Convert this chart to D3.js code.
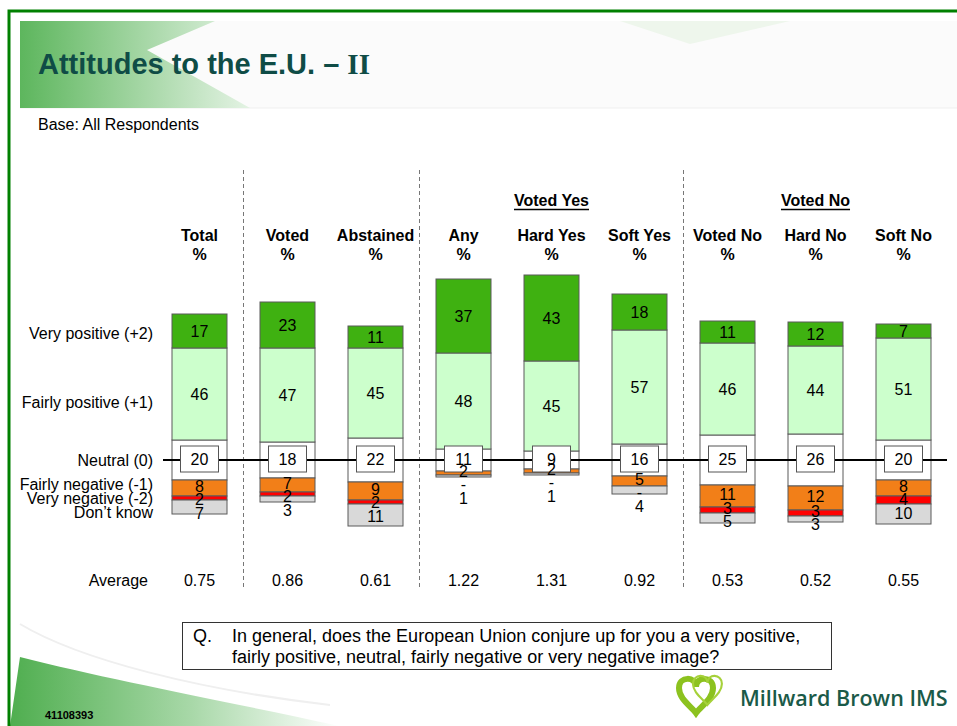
<!DOCTYPE html>
<meta charset="utf-8">
<style>
    body { margin: 0; background: #fff; }
    svg text { font-family: "Liberation Sans", Arial, sans-serif; }
    .rowLabel { font-size: 16px; fill: #000; text-anchor: end; }
    .colHead { font-size: 16px; font-weight: bold; text-anchor: middle; }
    .segLabel { font-size: 16px; text-anchor: middle; }
    .avg { font-size: 16px; text-anchor: middle; }
</style>
<svg width="957" height="726"></svg>
<script src="https://d3js.org/d3.v7.min.js"></script>
<script>
    // categories and values
    var columns = ["Total", "Voted", "Abstained", "Any", "Hard Yes", "Soft Yes", "Voted No", "Hard No", "Soft No"];
    var veryPositive   = [17, 23, 11, 37, 43, 18, 11, 12, 7];
    var fairlyPositive = [46, 47, 45, 48, 45, 57, 46, 44, 51];
    var neutral        = [20, 18, 22, 11, 9, 16, 25, 26, 20];
    var fairlyNegative = [8, 7, 9, 2, 2, 5, 11, 12, 8];
    var veryNegative   = [2, 2, 2, 0, 0, 0, 3, 3, 4];
    var dontKnow       = [7, 3, 11, 1, 1, 4, 5, 3, 10];
    var averages = ["0.75", "0.86", "0.61", "1.22", "1.31", "0.92", "0.53", "0.52", "0.55"];
    var groupHeads = [{label: "Voted Yes", over: "Hard Yes"}, {label: "Voted No", over: "Hard No"}];
    var dividersAfter = ["Total", "Abstained", "Soft Yes"];
    var rowLabels = ["Very positive (+2)", "Fairly positive (+1)", "Neutral (0)",
                     "Fairly negative (-1)", "Very negative (-2)", "Don\u2019t know"];

    var colors = {vp: "#3fb111", fp: "#ccffcc", n: "#ffffff", fn: "#f27f18", vn: "#ff0000", dk: "#d9d9d9"};

    var svg = d3.select("svg"),
        width = +svg.attr("width"),
        height = +svg.attr("height");

    var defs = svg.append("defs");
    var g1 = defs.append("linearGradient").attr("id", "titleGreen");
    g1.append("stop").attr("offset", "0%").attr("stop-color", "#5db65d");
    g1.append("stop").attr("offset", "100%").attr("stop-color", "#e4f3e4");
    var g2 = defs.append("linearGradient").attr("id", "footGreen");
    g2.append("stop").attr("offset", "0%").attr("stop-color", "#4fae4f");
    g2.append("stop").attr("offset", "55%").attr("stop-color", "#a8d8a8");
    g2.append("stop").attr("offset", "100%").attr("stop-color", "#ffffff");

    // slide decoration
    svg.append("rect").attr("x", 20).attr("y", 21).attr("width", width - 20).attr("height", 87)
        .attr("fill", "#fbfbfb");
    svg.append("line").attr("x1", 20).attr("x2", width).attr("y1", 108).attr("y2", 108)
        .attr("stroke", "#efefef");
    svg.append("path").attr("d", "M20,21 L215,21 L147,50 L250,108 L20,108 Z")
        .attr("fill", "url(#titleGreen)");
    svg.append("path").attr("d", "M620,21 L790,21 L690,44 Z").attr("fill", "#eef6ec");

    svg.append("path").attr("d", "M20,624 C80,660 200,690 330,705").attr("fill", "none")
        .attr("stroke", "#efefef").attr("stroke-width", 2);
    svg.append("path").attr("d", "M20,657 C110,680 220,700 340,726 L10,726 Z")
        .attr("fill", "url(#footGreen)");

    svg.append("path").attr("d", "M9,726 L9,11 L957,11").attr("fill", "none")
        .attr("stroke", "#008000").attr("stroke-width", 3);

    // title
    var title = svg.append("text").attr("x", 38).attr("y", 74)
        .style("font-size", "29px").style("font-weight", "bold").attr("fill", "#0f4c46");
    title.append("tspan").text("Attitudes to the E.U. \u2013 ");
    title.append("tspan").style("font-family", "'Liberation Serif', serif").text("II");

    svg.append("text").attr("x", 38).attr("y", 130).style("font-size", "16px").text("Base: All Respondents");

    // scales
    var x = d3.scaleBand().domain(columns).range([155.5, 947.5])
        .paddingInner(0.375).paddingOuter(0.1875);
    var yPos = d3.scaleLinear().domain([-100, 100]).range([660, 260]);   // 0 = neutral line
    var bw = x.bandwidth();
    function cx(c) { return x(c) + bw / 2; }

    // dashed dividers
    dividersAfter.forEach(function (c) {
        var i = columns.indexOf(c);
        var xm = (cx(columns[i]) + cx(columns[i + 1])) / 2;
        svg.append("line").attr("x1", xm).attr("x2", xm).attr("y1", 170).attr("y2", 590)
            .attr("stroke", "#777").attr("stroke-width", 1).attr("stroke-dasharray", "4,3");
    });

    // headers
    groupHeads.forEach(function (h) {
        var t = svg.append("text").attr("class", "colHead").attr("x", cx(h.over)).attr("y", 206).text(h.label);
        var w = t.node().getComputedTextLength();
        svg.append("line").attr("x1", cx(h.over) - w / 2).attr("x2", cx(h.over) + w / 2)
            .attr("y1", 209.5).attr("y2", 209.5).attr("stroke", "#000").attr("stroke-width", 1.5);
    });
    columns.forEach(function (c) {
        svg.append("text").attr("class", "colHead").attr("x", cx(c)).attr("y", 241).text(c);
        svg.append("text").attr("class", "colHead").attr("x", cx(c)).attr("y", 260).text("%");
    });

    // build segments
    var table = columns.map(function (c, i) {
        var n = neutral[i];
        var segs = [];
        var top = n / 2;
        segs.push({key: "n", from: -n / 2, to: n / 2, v: n});
        segs.push({key: "fp", from: top, to: top + fairlyPositive[i], v: fairlyPositive[i]});
        top += fairlyPositive[i];
        segs.push({key: "vp", from: top, to: top + veryPositive[i], v: veryPositive[i]});
        var bot = -n / 2;
        segs.push({key: "fn", from: bot - fairlyNegative[i], to: bot, v: fairlyNegative[i]});
        bot -= fairlyNegative[i];
        segs.push({key: "vn", from: bot - veryNegative[i], to: bot, v: veryNegative[i]});
        bot -= veryNegative[i];
        segs.push({key: "dk", from: bot - dontKnow[i], to: bot, v: dontKnow[i]});
        return {col: c, avg: averages[i], segs: segs};
    });

    var bars = svg.append("g").selectAll("g").data(table).enter().append("g");
    bars.selectAll("rect")
        .data(function (d) { return d.segs.filter(function (s) { return s.v > 0; })
            .map(function (s) { return Object.assign({col: d.col}, s); }); })
        .enter().append("rect")
        .attr("x", function (s) { return x(s.col); })
        .attr("width", bw)
        .attr("y", function (s) { return yPos(s.to); })
        .attr("height", function (s) { return yPos(s.from) - yPos(s.to); })
        .attr("fill", function (s) { return colors[s.key]; })
        .attr("stroke", "#5a5a5a").attr("stroke-width", 1);

    // neutral line
    svg.append("line").attr("x1", 163).attr("x2", 947).attr("y1", yPos(0)).attr("y2", yPos(0))
        .attr("stroke", "#000").attr("stroke-width", 2);

    // labels
    table.forEach(function (d) {
        var c = cx(d.col);
        d.segs.forEach(function (s) {
            if (s.key === "vp" || s.key === "fp") {
                svg.append("text").attr("class", "segLabel").attr("x", c)
                    .attr("y", (yPos(s.from) + yPos(s.to)) / 2).attr("dy", "0.35em").text(s.v);
            }
        });
        svg.append("rect").attr("x", c - 19).attr("y", yPos(0) - 14).attr("width", 38).attr("height", 26)
            .attr("fill", "#fff").attr("stroke", "#555").attr("stroke-width", 1);
        svg.append("text").attr("class", "segLabel").attr("x", c).attr("y", yPos(0) - 1)
            .attr("dy", "0.35em").text(d.segs[0].v);
        var prev = -Infinity;
        d.segs.filter(function (s) { return ["fn", "vn", "dk"].indexOf(s.key) >= 0; })
            .forEach(function (s) {
                var yy = Math.max((yPos(s.from) + yPos(s.to)) / 2 - 2, prev + 13.5);
                prev = yy;
                svg.append("text").attr("class", "segLabel").attr("x", c).attr("y", yy)
                    .attr("dy", "0.35em").text(s.v === 0 ? "-" : s.v);
            });
        svg.append("text").attr("class", "avg").attr("x", c).attr("y", 586).text(d.avg);
    });

    // row labels
    var rowY = [yPos(63.5), yPos(29), yPos(0), yPos(-12), yPos(-19), yPos(-26)];
    rowLabels.forEach(function (r, i) {
        svg.append("text").attr("class", "rowLabel").attr("x", 153).attr("y", rowY[i])
            .attr("dy", "0.35em").text(r);
    });
    svg.append("text").attr("class", "rowLabel").attr("x", 148).attr("y", 586).text("Average");

    // question box
    svg.append("rect").attr("x", 182.5).attr("y", 622.5).attr("width", 649).attr("height", 47)
        .attr("fill", "#fff").attr("stroke", "#333").attr("stroke-width", 1);
    svg.append("text").attr("x", 193).attr("y", 642).style("font-size", "18px").text("Q.");
    svg.append("text").attr("x", 232).attr("y", 642).style("font-size", "18px")
        .text("In general, does the European Union conjure up for you a very positive,");
    svg.append("text").attr("x", 232).attr("y", 663).style("font-size", "18px")
        .text("fairly positive, neutral, fairly negative or very negative image?");

    svg.append("text").attr("x", 45).attr("y", 719).style("font-size", "11px").style("font-weight", "bold")
        .text("41108393");

    // logo
    var heart = "M0,9 C0,-3 17,-3 17,8 C17,-3 34,-3 34,9 C34,20 22,27 17,34 C12,27 0,20 0,9 Z";
    svg.append("path").attr("d", heart).attr("transform", "translate(679,679)")
        .attr("fill", "none").attr("stroke", "#8cc21f").attr("stroke-width", 6);
    svg.append("path").attr("d", heart).attr("transform", "translate(693,676) scale(0.85)")
        .attr("fill", "none").attr("stroke", "#a6d13a").attr("stroke-width", 2.5);
    svg.append("text").attr("x", 740).attr("y", 706).style("font-family", "'Open Sans', sans-serif")
        .style("font-size", "21.5px").style("font-weight", 600).attr("fill", "#1b5a48")
        .text("Millward Brown IMS");
</script>
